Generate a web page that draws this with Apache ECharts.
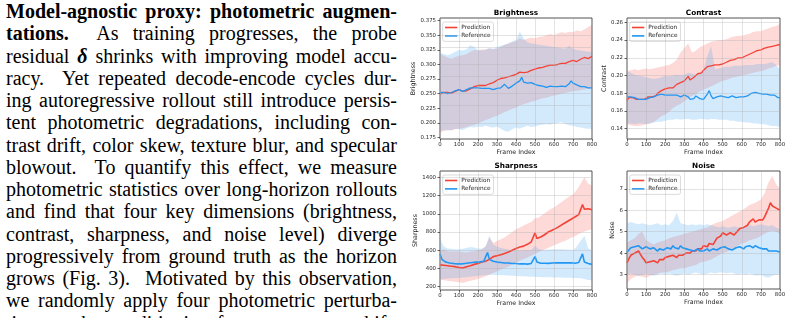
<!DOCTYPE html>
<html>
<head>
<meta charset="utf-8">
<script src="https://cdn.jsdelivr.net/npm/echarts@6/dist/echarts.min.js"></script>
<style>
  html, body { margin: 0; padding: 0; background: #fff; }
  body { width: 791px; height: 318px; position: relative; overflow: hidden; }
  #text { position: absolute; left: 6px; top: 0; width: 391px; font-family: 'Liberation Serif', serif; font-size: 20px; line-height: 22.27px; color: #000; }
  #text div { text-align: justify; text-align-last: justify; height: 22.27px; }
  #chart { position: absolute; left: 400px; top: 0; width: 391px; height: 318px; }
</style>
</head>
<body>
<div id="text">
  <div><b>Model-agnostic proxy: photometric augmen-</b></div>
  <div><b>tations.</b>&nbsp; As training progresses, the probe</div>
  <div>residual <b><i>δ</i></b> shrinks with improving model accu-</div>
  <div>racy.&nbsp; Yet repeated decode-encode cycles dur-</div>
  <div>ing autoregressive rollout still introduce persis-</div>
  <div>tent photometric degradations, including con-</div>
  <div>trast drift, color skew, texture blur, and specular</div>
  <div>blowout.&nbsp; To quantify this effect, we measure</div>
  <div>photometric statistics over long-horizon rollouts</div>
  <div>and find that four key dimensions (brightness,</div>
  <div>contrast, sharpness, and noise level) diverge</div>
  <div>progressively from ground truth as the horizon</div>
  <div>grows (Fig. 3).&nbsp; Motivated by this observation,</div>
  <div>we randomly apply four photometric perturba-</div>
  <div>tions to the conditioning frame: exposure shift,</div>
</div>
<div id="chart"></div>
<script>
// tick labels
var frameTicks = [0, 100, 200, 300, 400, 500, 600, 700, 800]
var brightTicks = [0.175, 0.2, 0.225, 0.25, 0.275, 0.3, 0.325, 0.35, 0.375]
var contrastTicks = [0.14, 0.16, 0.18, 0.2, 0.22, 0.24, 0.26]
var sharpTicks = [200, 400, 600, 800, 1000, 1200, 1400]
var noiseTicks = [3, 4, 5, 6, 7]

// mean curves, one value every 10 frames (0..800)
var brightPred = [
  0.249,0.251,0.252,0.254,0.252,0.249,0.251,0.253,0.254,0.256,
  0.257,0.255,0.254,0.252,0.255,0.256,0.258,0.261,0.262,0.262,
  0.264,0.263,0.264,0.265,0.264,0.265,0.267,0.268,0.269,0.271,
  0.273,0.274,0.276,0.278,0.277,0.278,0.279,0.280,0.281,0.282,
  0.283,0.285,0.287,0.288,0.286,0.286,0.287,0.289,0.290,0.291,
  0.292,0.293,0.294,0.295,0.295,0.296,0.297,0.298,0.299,0.299,
  0.299,0.300,0.300,0.301,0.302,0.301,0.302,0.304,0.305,0.306,
  0.307,0.306,0.305,0.307,0.309,0.311,0.312,0.311,0.310,0.312,
  0.314]
var brightRef = [
  0.252,0.253,0.252,0.251,0.250,0.249,0.252,0.254,0.255,0.256,
  0.257,0.255,0.254,0.256,0.257,0.258,0.260,0.259,0.260,0.261,
  0.260,0.261,0.259,0.258,0.259,0.260,0.259,0.258,0.257,0.258,
  0.259,0.258,0.260,0.262,0.266,0.263,0.259,0.260,0.263,0.266,
  0.268,0.265,0.272,0.278,0.270,0.267,0.268,0.270,0.269,0.267,
  0.266,0.265,0.264,0.262,0.263,0.262,0.261,0.262,0.263,0.261,
  0.262,0.263,0.262,0.261,0.263,0.264,0.262,0.261,0.267,0.272,
  0.268,0.266,0.265,0.264,0.262,0.261,0.262,0.260,0.260,0.259,
  0.260]
var contrastPred = [
  0.172,0.175,0.176,0.175,0.174,0.173,0.174,0.173,0.174,0.173,
  0.174,0.176,0.175,0.176,0.175,0.177,0.180,0.182,0.183,0.184,
  0.185,0.185,0.186,0.185,0.186,0.188,0.190,0.191,0.192,0.193,
  0.194,0.196,0.199,0.195,0.197,0.198,0.200,0.202,0.204,0.203,
  0.206,0.208,0.210,0.212,0.211,0.210,0.212,0.213,0.212,0.213,
  0.213,0.214,0.215,0.216,0.217,0.218,0.218,0.219,0.220,0.220,
  0.220,0.221,0.222,0.222,0.224,0.225,0.226,0.227,0.228,0.228,
  0.229,0.230,0.231,0.231,0.232,0.232,0.233,0.233,0.234,0.235,
  0.235]
var contrastRef = [
  0.176,0.175,0.176,0.177,0.175,0.174,0.173,0.174,0.173,0.174,
  0.173,0.174,0.175,0.174,0.176,0.178,0.178,0.177,0.179,0.178,
  0.178,0.179,0.178,0.177,0.178,0.177,0.178,0.177,0.176,0.177,
  0.178,0.180,0.176,0.173,0.172,0.174,0.177,0.176,0.174,0.172,
  0.173,0.175,0.179,0.183,0.177,0.174,0.175,0.176,0.176,0.177,
  0.177,0.176,0.176,0.175,0.176,0.177,0.176,0.175,0.176,0.176,
  0.175,0.176,0.175,0.177,0.178,0.180,0.180,0.181,0.180,0.180,
  0.180,0.179,0.180,0.179,0.178,0.178,0.177,0.178,0.176,0.175,
  0.175]
var sharpPred = [
  440,450,435,445,430,440,425,430,420,415,
  410,415,405,410,420,425,430,440,445,450,
  455,460,470,475,480,490,500,510,530,525,
  540,545,550,560,565,570,580,590,600,610,
  620,625,635,640,645,655,665,675,690,700,
  790,730,735,745,760,770,785,800,810,820,
  830,840,850,865,880,890,900,915,925,940,
  955,965,980,990,1005,1100,1050,1060,1055,1065,
  1045]
var sharpRef = [
  560,500,480,470,465,460,455,455,450,450,
  448,450,452,455,458,460,462,465,468,470,
  470,472,475,478,480,575,500,490,480,475,
  470,468,465,462,460,465,460,458,455,456,
  455,452,450,455,452,450,448,452,455,450,
  530,470,462,458,455,458,460,456,458,460,
  460,462,465,462,460,463,465,462,460,462,
  460,458,462,465,470,560,470,462,455,450,
  445]
var noisePred = [
  3.55,3.75,3.90,3.85,4.00,3.95,4.10,4.15,3.80,3.70,
  3.55,3.50,3.60,3.55,3.65,3.60,3.55,3.70,3.75,3.70,
  3.80,3.75,3.85,3.80,3.90,3.85,3.80,3.90,3.95,3.90,
  3.95,4.00,4.05,4.00,4.10,4.15,4.10,4.20,4.25,4.20,
  4.35,4.40,4.30,4.45,4.50,4.40,4.55,4.70,4.65,4.80,
  4.95,4.90,4.85,4.80,4.95,5.00,4.85,4.90,5.05,5.15,
  5.10,5.20,5.15,5.30,5.45,5.50,5.60,5.45,5.50,5.55,
  5.60,5.55,5.70,5.90,6.10,6.35,6.20,6.25,6.10,6.05,
  6.00]
var noiseRef = [
  4.05,4.15,4.25,4.20,4.30,4.25,4.35,4.30,4.20,4.25,
  4.30,4.25,4.20,4.15,4.25,4.20,4.10,4.20,4.25,4.15,
  4.20,4.25,4.30,4.20,4.35,4.25,4.30,4.20,4.35,4.25,
  4.30,4.20,4.25,4.15,4.20,4.10,4.15,4.20,4.10,4.15,
  4.10,4.15,4.20,4.10,4.15,4.20,4.25,4.15,4.20,4.25,
  4.20,4.30,4.25,4.20,4.25,4.15,4.20,4.25,4.20,4.30,
  4.25,4.20,4.30,4.25,4.35,4.30,4.25,4.35,4.30,4.25,
  4.30,4.20,4.15,4.20,4.10,4.15,4.10,4.05,4.10,4.05,
  4.05]

// spread bands, one value every 20 frames (0..800)
var brightPredHi = [0.318,0.315,0.312,0.310,0.313,0.315,0.316,0.318,0.322,0.325,0.324,0.326,0.325,0.328,0.326,0.327,0.330,0.334,0.336,0.338,0.340,0.345,0.342,0.344,0.346,0.345,0.347,0.348,0.350,0.352,0.350,0.353,0.355,0.354,0.356,0.355,0.358,0.357,0.360,0.364,0.368]
var brightPredLo = [0.183,0.186,0.188,0.187,0.189,0.190,0.191,0.193,0.195,0.197,0.199,0.202,0.205,0.207,0.210,0.212,0.215,0.218,0.221,0.224,0.226,0.230,0.232,0.234,0.236,0.238,0.240,0.242,0.243,0.245,0.247,0.248,0.250,0.251,0.253,0.254,0.255,0.256,0.257,0.258,0.259]
var brightRefHi = [0.320,0.318,0.316,0.318,0.322,0.325,0.324,0.326,0.333,0.330,0.325,0.324,0.326,0.328,0.327,0.330,0.332,0.334,0.336,0.340,0.342,0.356,0.345,0.338,0.336,0.335,0.334,0.333,0.332,0.331,0.330,0.329,0.328,0.327,0.332,0.327,0.325,0.324,0.323,0.322,0.322]
var brightRefLo = [0.186,0.188,0.187,0.188,0.190,0.189,0.188,0.191,0.193,0.192,0.194,0.193,0.195,0.193,0.192,0.194,0.190,0.186,0.185,0.189,0.192,0.190,0.193,0.195,0.193,0.194,0.196,0.197,0.198,0.197,0.199,0.200,0.201,0.198,0.196,0.195,0.193,0.192,0.191,0.190,0.190]
var contrastPredHi = [0.205,0.206,0.207,0.206,0.207,0.208,0.207,0.208,0.209,0.210,0.211,0.212,0.214,0.218,0.226,0.231,0.236,0.226,0.228,0.232,0.234,0.236,0.238,0.239,0.240,0.240,0.241,0.243,0.244,0.245,0.245,0.246,0.247,0.249,0.250,0.250,0.252,0.253,0.255,0.256,0.258]
var contrastPredLo = [0.145,0.144,0.143,0.143,0.144,0.145,0.146,0.148,0.151,0.154,0.156,0.159,0.163,0.166,0.168,0.171,0.174,0.177,0.179,0.182,0.184,0.186,0.188,0.190,0.192,0.194,0.195,0.197,0.198,0.199,0.200,0.201,0.202,0.203,0.204,0.205,0.206,0.208,0.209,0.211,0.212]
var contrastRefHi = [0.205,0.203,0.201,0.200,0.199,0.198,0.197,0.196,0.197,0.198,0.200,0.199,0.200,0.201,0.200,0.201,0.203,0.202,0.201,0.203,0.206,0.222,0.233,0.207,0.208,0.209,0.210,0.210,0.211,0.211,0.211,0.212,0.212,0.212,0.213,0.213,0.213,0.214,0.215,0.212,0.207]
var contrastRefLo = [0.146,0.146,0.145,0.146,0.146,0.145,0.146,0.147,0.148,0.148,0.149,0.150,0.150,0.151,0.150,0.151,0.151,0.150,0.150,0.151,0.151,0.150,0.151,0.151,0.150,0.150,0.150,0.149,0.149,0.148,0.148,0.147,0.147,0.146,0.146,0.145,0.145,0.144,0.143,0.143,0.142]
var sharpPredHi = [600,610,590,585,590,585,580,575,585,590,600,610,640,740,680,700,720,740,770,800,830,850,870,890,910,950,960,990,1020,1050,1070,1100,1130,1160,1190,1210,1260,1330,1400,1330,1310]
var sharpPredLo = [280,270,265,260,255,250,240,255,265,275,285,300,315,330,350,370,390,405,420,445,465,485,505,520,540,560,580,600,615,635,655,670,690,705,725,745,765,790,805,820,830]
var sharpRefHi = [720,640,620,615,610,610,615,625,635,630,620,615,640,760,660,640,625,615,605,600,600,598,600,602,600,650,610,605,606,608,610,612,610,608,605,604,640,700,760,620,600]
var sharpRefLo = [280,285,290,292,295,295,300,305,310,315,320,322,328,332,330,328,326,325,322,320,318,316,314,312,310,308,306,305,304,303,302,300,300,298,297,296,295,292,285,275,270]
var noisePredHi = [4.5,4.6,4.7,4.9,5.0,4.6,4.5,4.4,4.5,4.55,4.6,4.7,4.75,4.8,4.85,4.9,4.95,5.0,5.05,5.1,5.15,5.2,5.3,5.4,5.45,5.5,5.6,5.7,5.8,5.9,6.0,6.1,6.25,6.3,6.4,6.5,6.8,7.3,7.6,7.2,7.0]
var noisePredLo = [2.6,2.8,2.9,2.95,2.9,2.85,2.95,3.0,3.05,3.1,3.1,3.15,3.2,3.25,3.3,3.3,3.35,3.4,3.45,3.55,3.6,3.65,3.7,3.8,3.9,4.0,4.05,4.15,4.25,4.35,4.45,4.5,4.6,4.65,4.7,4.8,4.9,5.0,5.05,5.0,4.9]
var noiseRefHi = [5.4,5.45,5.4,5.35,5.4,5.35,5.3,5.35,5.4,5.3,5.35,5.3,5.5,5.9,5.4,5.35,5.3,5.35,5.3,5.35,5.3,5.35,5.3,5.25,5.2,5.25,5.2,5.2,5.25,5.2,5.2,5.25,5.3,5.25,5.3,5.35,5.3,5.25,5.3,5.2,5.1]
var noiseRefLo = [3.0,3.05,3.0,2.95,3.0,3.05,3.0,2.95,3.0,3.05,3.0,3.05,3.0,2.95,3.0,3.05,3.0,3.05,3.1,3.05,3.0,3.05,3.1,3.05,3.1,3.1,3.05,3.1,3.05,3.0,3.05,3.0,3.05,3.0,2.95,3.0,2.9,2.85,2.95,3.0,3.0]

var RED = '#F44336'
var BLUE = '#2196F3'
var FONT = 'DejaVu Sans'

function pts (vals, step) {
  return vals.map(function (v, i) { return [i * step, v] })
}
// rows [frame, low, high] for the shaded spread
function bandRows (lo, hi, step) {
  return lo.map(function (v, i) { return [i * step, v, hi[i]] })
}
// whole band drawn as one polygon, placed with the axis scales
function bandRenderer (fill) {
  return function (params, api) {
    if (params.dataIndex !== 0) return null
    var n = params.dataInsideLength
    var top = [], bottom = []
    for (var i = 0; i < n; i++) {
      bottom.push(api.coord([api.value(0, i), api.value(1, i)]))
      top.push(api.coord([api.value(0, i), api.value(2, i)]))
    }
    return {
      type: 'polygon',
      shape: { points: bottom.concat(top.reverse()) },
      style: { fill: fill, stroke: null }
    }
  }
}

var panels = [
  { title: 'Brightness', ticks: brightTicks, min: 0.1724, max: 0.3796, digits: 3, pred: brightPred, ref: brightRef,
    band: [brightPredLo, brightPredHi, brightRefLo, brightRefHi], lw: 1.3,
    grid: { left: 40, top: 18, width: 152, height: 121 }, nameGap: 21 },
  { title: 'Contrast', ticks: contrastTicks, min: 0.1284, max: 0.2649, digits: 2, pred: contrastPred, ref: contrastRef,
    band: [contrastPredLo, contrastPredHi, contrastRefLo, contrastRefHi], lw: 1.3,
    grid: { left: 227, top: 18, width: 153, height: 121 }, nameGap: 17 },
  { title: 'Sharpness', ticks: sharpTicks, min: 164, max: 1469, digits: 0, pred: sharpPred, ref: sharpRef,
    band: [sharpPredLo, sharpPredHi, sharpRefLo, sharpRefHi], lw: 1.6,
    grid: { left: 40, top: 171, width: 152, height: 119 }, nameGap: 19 },
  { title: 'Noise', ticks: noiseTicks, min: 2.33, max: 7.83, digits: 0, pred: noisePred, ref: noiseRef,
    band: [noisePredLo, noisePredHi, noiseRefLo, noiseRefHi], lw: 1.6,
    grid: { left: 227, top: 171, width: 153, height: 118 }, nameGap: 9 }
]

var grids = [], xAxes = [], yAxes = [], series = [], legends = [], texts = []

panels.forEach(function (p, k) {
  grids.push(Object.assign({ show: true, borderColor: '#262626', borderWidth: 0.8, backgroundColor: 'transparent' }, p.grid))
  xAxes.push({
    type: 'value', gridIndex: k, min: 0, max: 800, interval: 100,
    name: 'Frame Index', nameLocation: 'middle', nameGap: 10,
    nameTextStyle: { fontFamily: FONT, fontSize: 6.3, color: '#262626' },
    axisLine: { show: false },
    axisTick: { show: true, length: 2.5, lineStyle: { color: '#262626', width: 0.7 } },
    axisLabel: { fontFamily: FONT, fontSize: 5.4, color: '#262626', margin: 3.5 },
    splitLine: { show: false }
  })
  yAxes.push({
    type: 'value', gridIndex: k, min: p.min, max: p.max,
    name: p.title, nameLocation: 'middle', nameGap: p.nameGap, nameRotate: 90,
    nameTextStyle: { fontFamily: FONT, fontSize: 6.3, color: '#262626' },
    axisLine: { show: false },
    axisTick: { show: true, length: 2.5, customValues: p.ticks, lineStyle: { color: '#262626', width: 0.7 } },
    axisLabel: {
      fontFamily: FONT, fontSize: 5.4, color: '#262626', margin: 4, customValues: p.ticks,
      formatter: function (v) { return v.toFixed(p.digits) }
    },
    splitLine: { show: false }
  })
  var gridLines = p.ticks.map(function (v) { return { yAxis: v } })
    .concat(frameTicks.map(function (v) { return { xAxis: v } }))
  var common = { xAxisIndex: k, yAxisIndex: k, silent: true, animation: false }
  series.push(Object.assign({}, common, {
    type: 'custom', name: 'pred-band-' + k, data: bandRows(p.band[0], p.band[1], 20),
    encode: { x: 0, y: [1, 2] }, renderItem: bandRenderer('rgba(244,67,54,0.2)'), z: 1
  }))
  series.push(Object.assign({}, common, {
    type: 'custom', name: 'ref-band-' + k, data: bandRows(p.band[2], p.band[3], 20),
    encode: { x: 0, y: [1, 2] }, renderItem: bandRenderer('rgba(33,150,243,0.2)'), z: 1
  }))
  series.push(Object.assign({}, common, {
    type: 'line', name: 'Prediction', data: pts(p.pred, 10), symbol: 'none', color: RED,
    lineStyle: { color: RED, width: p.lw }, z: 3,
    markLine: {
      silent: true, symbol: ['none', 'none'], label: { show: false }, animation: false,
      lineStyle: { color: '#b0b0b0', opacity: 0.5, width: 0.7, type: 'solid' },
      data: gridLines
    }
  }))
  series.push(Object.assign({}, common, {
    type: 'line', name: 'Reference', data: pts(p.ref, 10), symbol: 'none', color: BLUE,
    lineStyle: { color: BLUE, width: p.lw }, z: 3
  }))
  legends.push({
    data: ['Prediction', 'Reference'], orient: 'vertical', selectedMode: false,
    left: p.grid.left + 2.7, top: p.grid.top + 4,
    icon: 'rect', itemWidth: 12.3, itemHeight: 1.6, itemGap: 1.4,
    padding: [2, 3, 2, 2.3], borderColor: '#cccccc', borderWidth: 0.7, borderRadius: 2,
    backgroundColor: 'rgba(255,255,255,0.8)',
    textStyle: { fontFamily: FONT, fontSize: 5.8, lineHeight: 7, color: '#262626', padding: [0, 0, 0, -1] }
  })
  texts.push({
    type: 'text', x: p.grid.left + p.grid.width / 2, y: p.grid.top - 4.5,
    style: { text: p.title, font: 'bold 7.3px "DejaVu Sans"', fill: '#000', textAlign: 'center', textVerticalAlign: 'middle' }
  })
})

var chart = echarts.init(document.getElementById('chart'))
chart.setOption({
  animation: false,
  grid: grids,
  xAxis: xAxes,
  yAxis: yAxes,
  legend: legends,
  graphic: texts,
  series: series
})
</script>
</body>
</html>
